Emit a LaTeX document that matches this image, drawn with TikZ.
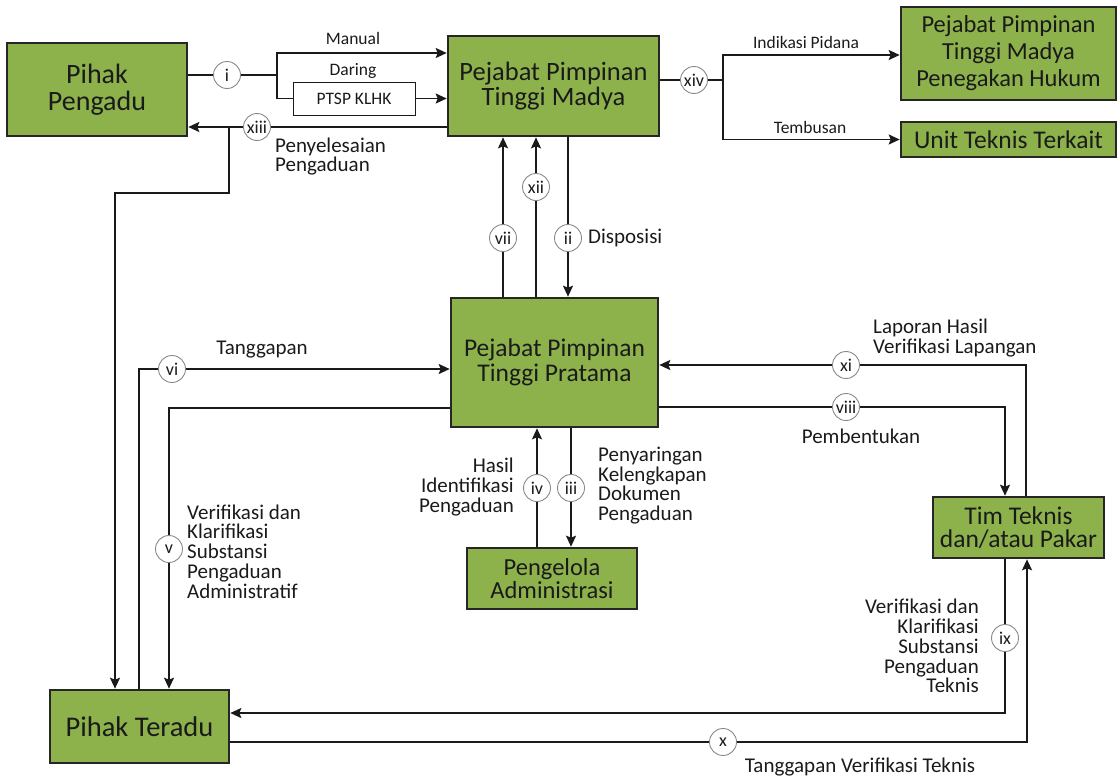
\documentclass[tikz,border=0pt]{standalone}
\usepackage{fontspec}
\setmainfont{Carlito}
\usetikzlibrary{arrows.meta}
\definecolor{boxgreen}{HTML}{8DB24C}
\definecolor{boxline}{HTML}{262626}
\definecolor{ink}{HTML}{1A1A1A}
\definecolor{ringgray}{HTML}{8A8A8A}
\tikzset{
  box/.style={draw=boxline, line width=2.6pt, fill=boxgreen, text=ink, align=center, inner sep=0pt},
  conn/.style={draw=ink, line width=1.9pt},
  arr/.style={conn, -{Stealth[length=11pt,width=10pt,inset=2pt]}},
  num/.style={circle, draw=ringgray, line width=0.9pt, fill=white, text=ink, inner sep=0pt, minimum size=27pt, font=\fontsize{18}{18}\selectfont},
  lbl/.style={text=ink, inner sep=0pt, font=\fontsize{21}{19.8}\selectfont},
  small/.style={text=ink, inner sep=0pt, font=\fontsize{17.5}{18}\selectfont},
}
\begin{document}
\begin{tikzpicture}[x=1pt,y=-1pt]
\useasboundingbox (0,0) rectangle (1118,777);
% boxes
\node[box, minimum width=180pt, minimum height=93pt, font=\fontsize{28}{26.5}\selectfont] (pengadu) at (97,89.5) {Pihak\\Pengadu};
\node[box, minimum width=211pt, minimum height=100pt, font=\fontsize{26.5}{25.5}\selectfont] (madya) at (553.5,86) {Pejabat Pimpinan\\Tinggi Madya};
\node[box, minimum width=215pt, minimum height=93pt, font=\fontsize{24.5}{27}\selectfont] (hukum) at (1008.5,53.5) {Pejabat Pimpinan\\Tinggi Madya\\Penegakan Hukum};
\node[box, minimum width=215pt, minimum height=35pt, font=\fontsize{25.5}{26}\selectfont] (unit) at (1008.5,139.5) {Unit Teknis Terkait};
\node[box, minimum width=207pt, minimum height=129pt, font=\fontsize{25.5}{25.5}\selectfont] (pratama) at (554.5,362.5) {Pejabat Pimpinan\\Tinggi Pratama};
\node[box, minimum width=170pt, minimum height=61pt, font=\fontsize{24.5}{22.5}\selectfont] (pengelola) at (552,578.5) {Pengelola\\Administrasi};
\node[box, minimum width=171pt, minimum height=61pt, font=\fontsize{25.5}{23}\selectfont] (tim) at (1018.5,527.5) {Tim Teknis\\dan/atau Pakar};
\node[box, minimum width=179pt, minimum height=73pt, font=\fontsize{28.5}{28}\selectfont] (teradu) at (139.5,726.5) {Pihak Teradu};
\node[draw=ink, line width=1pt, fill=white, minimum width=122pt, minimum height=33pt, inner sep=0pt, text=ink, font=\fontsize{17.5}{18}\selectfont] (ptsp) at (354,98.5) {PTSP KLHK};

% (i) pengadu -> madya
\coordinate (jI) at (277,75);
\draw[conn] (pengadu.east |- 0,75) -- (jI);
\draw[arr] (jI) |- (madya.west |- 0,53);
\draw[conn] (jI) |- (ptsp.west);
\draw[arr] (ptsp.east) -- (madya.west |- ptsp.east);
\node[num] (ci) at (227,75) {i};
\node[small] (lmanual) at (353,38) {Manual};
\node[small] (ldaring) at (353,71) {Daring};

% (xiii) madya -> pengadu, branch to teradu
\coordinate (jXIII) at (229,127);
\draw[arr] (madya.west |- 0,127) -- (pengadu.east |- 0,127);
\draw[arr] (jXIII) -- (229,193) -- (115,193) -- (teradu.north -| 115,0);
\node[num] (cxiii) at (257,127) {xiii};
\node[lbl, anchor=west, align=left] (lpenyel) at (275,156.5) {Penyelesaian\\Pengaduan};

% (xiv) madya -> hukum / unit
\coordinate (jXIV) at (723,80);
\draw[conn] (madya.east |- 0,80) -- (jXIV);
\draw[arr] (jXIV) |- (hukum.west |- 0,55);
\draw[arr] (jXIV) |- (unit.west);
\node[num] (cxiv) at (694,80) {xiv};
\node[small] (lpidana) at (806,42) {Indikasi Pidana};
\node[small] (ltembusan) at (810,127) {Tembusan};

% (vii), (xii), (ii)
\draw[arr] (pratama.north -| 503,0) -- (madya.south -| 503,0);
\node[num] (cvii) at (503,238) {vii};
\draw[arr] (pratama.north -| 536,0) -- (madya.south -| 536,0);
\node[num] (cxii) at (536,187) {xii};
\draw[arr] (madya.south -| 568,0) -- (pratama.north -| 568,0);
\node[num] (cii) at (568,238) {ii};
\node[lbl, anchor=west] (ldispo) at (588,238) {Disposisi};

% (vi) teradu -> pratama
\draw[arr] (teradu.north -| 139,0) -- (139,369) -- (pratama.west |- 0,369);
\node[num] (cvi) at (172,369) {vi};
\node[lbl] (ltangg) at (262,350) {Tanggapan};

% (v) pratama -> teradu
\draw[arr] (pratama.west |- 0,408) -- (169,408) -- (teradu.north -| 169,0);
\node[num] (cv) at (169,549) {v};
\node[lbl, anchor=west, align=left] (lverv) at (187,551.5) {Verifikasi dan\\Klarifikasi\\Substansi\\Pengaduan\\Administratif};

% (iv), (iii)
\draw[arr] (pengelola.north -| 537,0) -- (pratama.south -| 537,0);
\node[num] (civ) at (537,488) {iv};
\node[lbl, anchor=east, align=right] (lhasil) at (514,487) {Hasil\\Identifikasi\\Pengaduan};
\draw[arr] (pratama.south -| 571,0) -- (pengelola.north -| 571,0);
\node[num] (ciii) at (571,488) {iii};
\node[lbl, anchor=west, align=left] (lpenyar) at (598,485.5) {Penyaringan\\Kelengkapan\\Dokumen\\Pengaduan};

% (xi), (viii)
\draw[arr] (tim.north -| 1026,0) |- (pratama.east |- 0,365);
\node[num] (cxi) at (846,365) {xi};
\node[lbl, anchor=west, align=left] (llapor) at (873,338) {Laporan Hasil\\Verifikasi Lapangan};
\draw[arr] (pratama.east |- 0,407) -| (tim.north -| 1005,0);
\node[num] (cviii) at (846,407) {viii};
\node[lbl] (lbentuk) at (861,436) {Pembentukan};

% (ix), (x)
\draw[arr] (tim.south -| 1005,0) |- (teradu.east |- 0,713);
\node[num] (cix) at (1005,638) {ix};
\node[lbl, anchor=east, align=right] (lverix) at (979,646) {Verifikasi dan\\Klarifikasi\\Substansi\\Pengaduan\\Teknis};
\draw[arr] (teradu.east |- 0,742) -| (tim.south -| 1027,0);
\node[num] (cx) at (723,742) {x};
\node[lbl] (ltangtek) at (860,767) {Tanggapan Verifikasi Teknis};
\end{tikzpicture}
\end{document}
